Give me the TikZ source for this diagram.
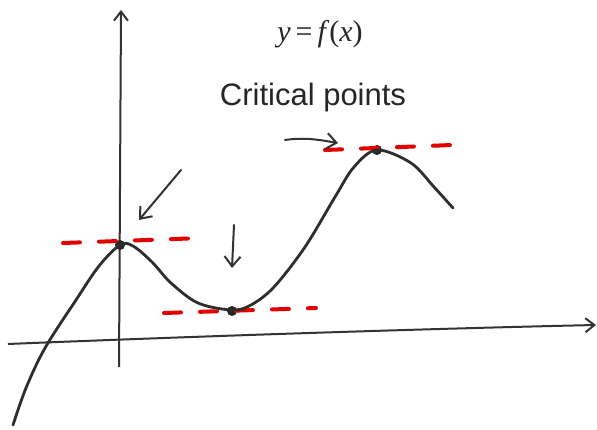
\documentclass[tikz,border=0pt]{standalone}
\usepackage{fontspec}
\setmainfont{Liberation Sans}
\newfontfamily\eqfont{Liberation Serif}
\usetikzlibrary{arrows.meta}
\tikzset{
  axis/.style={line width=2pt, draw=black!80, -{Straight Barb[length=9pt,width=14pt,line width=2pt]}},
  curve/.style={line width=2.8pt, draw=black!82, line cap=round, line join=round},
  tangent/.style={line width=4pt, draw=red!90!black, dash pattern=on 17pt off 19pt, line cap=round},
  pointer/.style={line width=2pt, draw=black!80, line cap=round, -{Straight Barb[length=10pt,width=16pt,line width=2pt]}},
  critdot/.style={circle, fill=black!85, inner sep=0pt, minimum size=10pt},
  label/.style={text=black!85, inner sep=0pt}
}
\begin{document}
\begin{tikzpicture}[x=1pt,y=-1pt]
\useasboundingbox[fill=white] (0,0) rectangle (597,430);
% axes
\coordinate (yb) at (119,367);
\coordinate (yt) at (121,10);
\coordinate (xl) at (8,344);
\coordinate (xr) at (596,325);
\draw[axis] (yb) -- (yt);
\draw[axis] (xl) .. controls (228,335) and (457,328) .. (xr);
% critical points
\node[critdot] (p1) at (120,245) {};
\node[critdot] (p2) at (232,311) {};
\node[critdot] (p3) at (377,150) {};
% tangents
\coordinate (t1a) at (63,243); \coordinate (t1b) at (203,238);
\coordinate (t2a) at (164,313); \coordinate (t2b) at (316,308);
\coordinate (t3a) at (325,150); \coordinate (t3b) at (452,145);
\draw[tangent] (t1a) -- (t1b);
\draw[tangent] (t2a) -- (t2b);
\draw[tangent] (t3a) -- (t3b);
% curve
\draw[curve] plot[smooth, tension=0.55] coordinates {
  (13,425) (26,388) (45,348) (76,300) (99,266) (120,245) (133,246)
  (152,262) (171,283) (198,303) (232,310) (251,305) (274,287)
  (305,247) (335,197) (354,167) (377,150) (411,163) (434,187) (453,208)};
% pointers
\coordinate (a1s) at (181,170); \coordinate (a1e) at (139,220);
\coordinate (a2s) at (234,225); \coordinate (a2e) at (232,268);
\coordinate (a3s) at (285,140); \coordinate (a3e) at (338,143);
\draw[pointer] (a1s) -- (a1e);
\draw[pointer] (a2s) -- (a2e);
\draw[pointer] (a3s) .. controls (305,137) and (320,140) .. (a3e);
% labels
\node[label, font=\eqfont\fontsize{30}{34}\selectfont] (fn) at (320,34) {\textit{y}\,=\,\textit{f}(\textit{x})};
\node[label, font=\fontsize{31}{36}\selectfont] (cp) at (313,97) {Critical points};
\end{tikzpicture}
\end{document}
